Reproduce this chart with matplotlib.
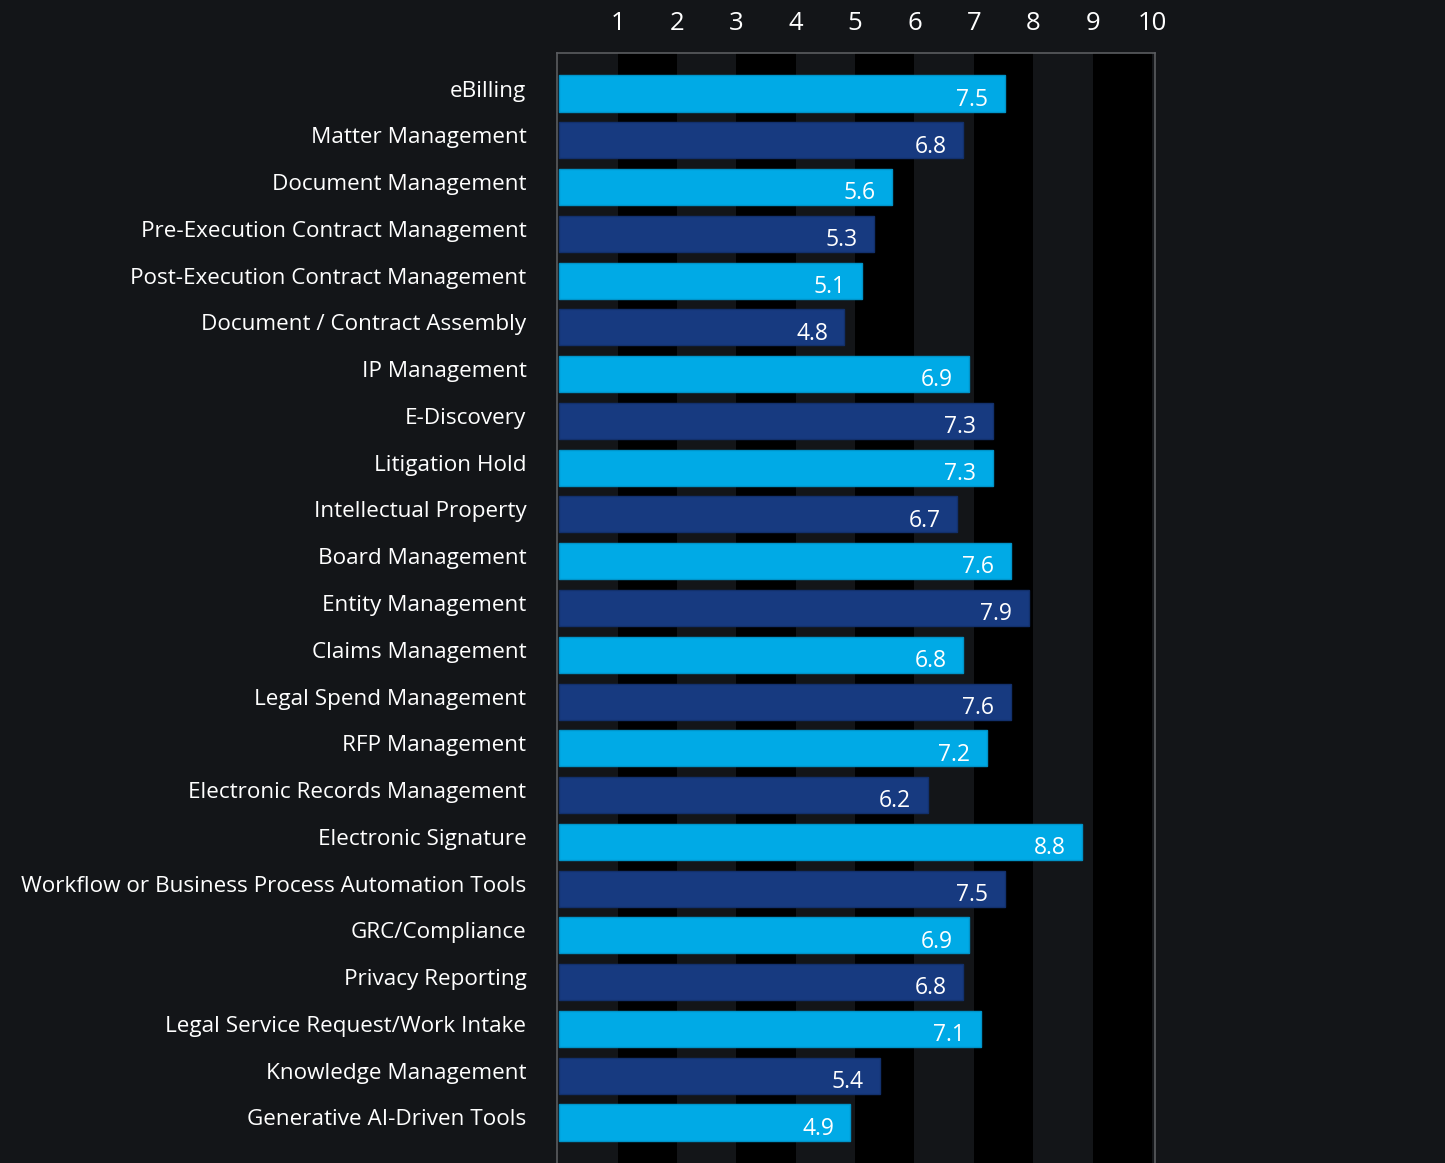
import matplotlib.pyplot as plt
from matplotlib.transforms import ScaledTranslation

plt.rcParams['font.family'] = ['Open Sans', 'DejaVu Sans']

# Scores per legal technology category
categories = [
    "eBilling", "Matter Management", "Document Management",
    "Pre-Execution Contract Management", "Post-Execution Contract Management",
    "Document / Contract Assembly", "IP Management", "E-Discovery",
    "Litigation Hold", "Intellectual Property", "Board Management",
    "Entity Management", "Claims Management", "Legal Spend Management",
    "RFP Management", "Electronic Records Management", "Electronic Signature",
    "Workflow or Business Process Automation Tools", "GRC/Compliance",
    "Privacy Reporting", "Legal Service Request/Work Intake",
    "Knowledge Management", "Generative AI-Driven Tools",
]
scores = [7.5, 6.8, 5.6, 5.3, 5.1, 4.8, 6.9, 7.3, 7.3, 6.7, 7.6, 7.9,
          6.8, 7.6, 7.2, 6.2, 8.8, 7.5, 6.9, 6.8, 7.1, 5.4, 4.9]
ticks = list(range(1, 11))

bg = "#131518"
light = "#00aae6"
navy = "#173a80"

fig = plt.figure(figsize=(14.45, 11.63), dpi=100, facecolor=bg)
ax = fig.add_axes([557 / 1445, 0, 598 / 1445, 1 - 53 / 1163])
ax.set_facecolor(bg)

# alternating black columns on every other unit
for start in range(1, 10, 2):
    ax.axvspan(start, start + 1, color="black", zorder=0, lw=0)

ypos = list(range(len(categories)))
colors = [light if i % 2 == 0 else navy for i in ypos]
edges = ["#0093c8" if i % 2 == 0 else "#12306c" for i in ypos]
ax.barh(ypos, scores, left=0.02, height=0.77, color=colors, edgecolor=edges,
        linewidth=1, zorder=2)

for y, v in zip(ypos, scores):
    ax.annotate(f"{v}", xy=(v, y), xytext=(-11, -4.5), textcoords="offset points",
                ha="right", va="center", color="white", fontsize=16.5, zorder=3)

ax.set_xlim(-0.02, 10.05)
ax.set_ylim(len(categories) - 1 + 0.866, -0.866)

ax.xaxis.tick_top()
ax.set_xticks(ticks)
ax.set_xticklabels([str(t) for t in ticks])
ax.tick_params(axis="x", length=0, pad=12, labelsize=18.5, colors="white")
ax.set_yticks(ypos)
ax.set_yticklabels(categories)
ax.tick_params(axis="y", length=0, pad=22, labelsize=16.2, colors="white")

# nudge category names up a little
lift = ScaledTranslation(0, 5 / 100, fig.dpi_scale_trans)
for lbl in ax.get_yticklabels():
    lbl.set_transform(lbl.get_transform() + lift)

for side in ("left", "top", "right"):
    ax.spines[side].set_color("#5a5c60")
    ax.spines[side].set_linewidth(1.2)
ax.spines["bottom"].set_visible(False)

fig.savefig("out.png", dpi=100, facecolor=bg)
